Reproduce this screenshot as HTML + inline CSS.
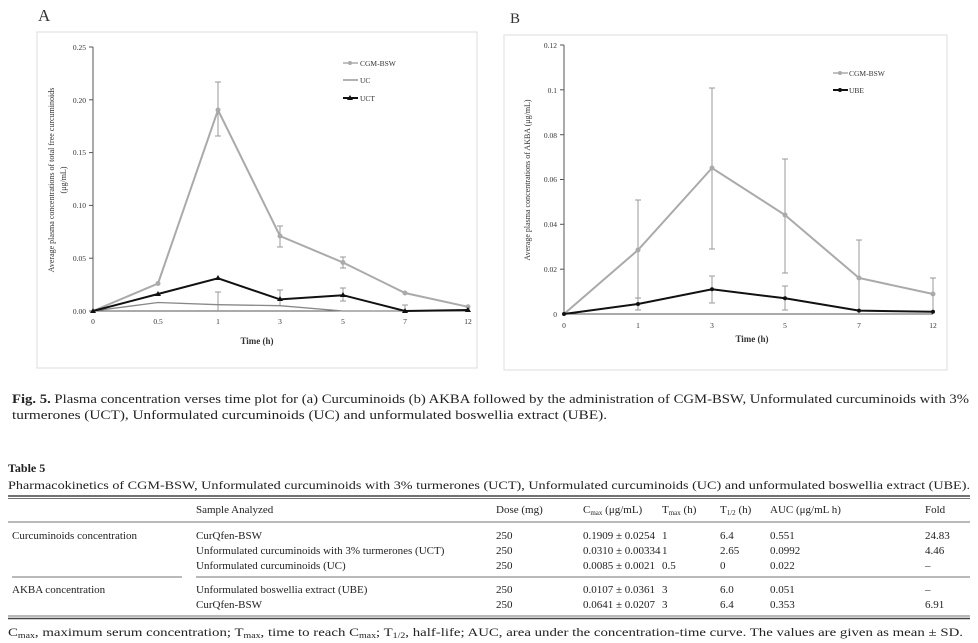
<!DOCTYPE html>
<html><head><meta charset="utf-8"><style>
body{margin:0;background:#fff;width:978px;height:643px;overflow:hidden}
svg{display:block}
text{font-family:"Liberation Serif",serif}
</style></head><body>
<svg width="978" height="643" viewBox="0 0 978 643">
<!-- Panel A -->
<text x="38" y="21" font-size="17" fill="#333">A</text>
<rect x="37" y="32" width="440" height="336" fill="none" stroke="#ddd"/>
<g stroke="#555" stroke-width="1" fill="none">
<line x1="93" y1="47" x2="93" y2="311"/><line x1="93" y1="311" x2="468" y2="311"/>
<line x1="89" y1="47" x2="93" y2="47"/><line x1="89" y1="99.8" x2="93" y2="99.8"/><line x1="89" y1="152.6" x2="93" y2="152.6"/><line x1="89" y1="205.4" x2="93" y2="205.4"/><line x1="89" y1="258.2" x2="93" y2="258.2"/><line x1="89" y1="311" x2="93" y2="311"/>
</g>
<g font-size="7.5" fill="#333" text-anchor="end">
<text x="86" y="50">0.25</text><text x="86" y="103">0.20</text><text x="86" y="155">0.15</text><text x="86" y="208">0.10</text><text x="86" y="261">0.05</text><text x="86" y="314">0.00</text>
</g>
<g font-size="7.5" fill="#333" text-anchor="middle">
<text x="93" y="324">0</text><text x="158" y="324">0.5</text><text x="218" y="324">1</text><text x="280" y="324">3</text><text x="343" y="324">5</text><text x="405" y="324">7</text><text x="468" y="324">12</text>
</g>
<text x="257" y="344" font-size="9" font-weight="bold" fill="#333" text-anchor="middle">Time (h)</text>
<text transform="translate(54,180) rotate(-90)" font-size="8" fill="#333" text-anchor="middle">Average plasma concentrations of total free curcuminoids</text>
<text transform="translate(66,180) rotate(-90)" font-size="8" fill="#333" text-anchor="middle">(μg/mL)</text>
<g stroke="#999" stroke-width="1">
<line x1="218" y1="82" x2="218" y2="136"/><line x1="215" y1="82" x2="221" y2="82"/><line x1="215" y1="136" x2="221" y2="136"/>
<line x1="280" y1="226" x2="280" y2="247"/><line x1="277" y1="226" x2="283" y2="226"/><line x1="277" y1="247" x2="283" y2="247"/>
<line x1="343" y1="257" x2="343" y2="268"/><line x1="340" y1="257" x2="346" y2="257"/><line x1="340" y1="268" x2="346" y2="268"/>
<line x1="218" y1="292" x2="218" y2="311"/><line x1="215" y1="292" x2="221" y2="292"/>
<line x1="280" y1="290" x2="280" y2="305"/><line x1="277" y1="290" x2="283" y2="290"/>
<line x1="343" y1="288" x2="343" y2="301"/><line x1="340" y1="288" x2="346" y2="288"/><line x1="340" y1="301" x2="346" y2="301"/>
<line x1="405" y1="305" x2="405" y2="311"/><line x1="402" y1="305" x2="408" y2="305"/>
</g>
<polyline points="93,311 158,283.5 218,110 280,236 343,262.5 405,293 468,306.8" fill="none" stroke="#aaa" stroke-width="2"/>
<g fill="#aaa"><circle cx="158" cy="283.5" r="2.5"/><circle cx="218" cy="110" r="2.5"/><circle cx="280" cy="236" r="2.5"/><circle cx="343" cy="262.5" r="2.5"/><circle cx="405" cy="293" r="2.5"/><circle cx="468" cy="306.8" r="2.5"/></g>
<polyline points="93,311 158,302.5 218,304.7 280,305.7 343,311 405,311 468,311" fill="none" stroke="#888" stroke-width="1.3"/>
<polyline points="93,311 158,294 218,278.3 280,299.4 343,295.2 405,311 468,310" fill="none" stroke="#111" stroke-width="2"/>
<g fill="#111"><path d="M93,308l3,5h-6z"/><path d="M158,291l3,5h-6z"/><path d="M218,275l3,5h-6z"/><path d="M280,296l3,5h-6z"/><path d="M343,292l3,5h-6z"/><path d="M405,308l3,5h-6z"/><path d="M468,307l3,5h-6z"/></g>
<g font-size="7.5" fill="#333">
<line x1="343" y1="63" x2="358" y2="63" stroke="#aaa" stroke-width="1.5"/><circle cx="350" cy="63" r="2" fill="#aaa"/><text x="360" y="66">CGM-BSW</text>
<line x1="343" y1="80" x2="358" y2="80" stroke="#888" stroke-width="1.3"/><text x="360" y="83">UC</text>
<line x1="343" y1="98" x2="358" y2="98" stroke="#111" stroke-width="2"/><path d="M350,95l3,5h-6z" fill="#111"/><text x="360" y="101">UCT</text>
</g>
<!-- Panel B -->
<text x="510" y="23" font-size="15" fill="#333">B</text>
<rect x="504" y="35" width="443" height="335" fill="none" stroke="#ddd"/>
<g stroke="#555" stroke-width="1" fill="none">
<line x1="564" y1="45" x2="564" y2="314"/><line x1="564" y1="314" x2="933" y2="314"/>
<line x1="560" y1="45" x2="564" y2="45"/><line x1="560" y1="89.8" x2="564" y2="89.8"/><line x1="560" y1="134.7" x2="564" y2="134.7"/><line x1="560" y1="179.5" x2="564" y2="179.5"/><line x1="560" y1="224.3" x2="564" y2="224.3"/><line x1="560" y1="269.2" x2="564" y2="269.2"/>
</g>
<g font-size="7.5" fill="#333" text-anchor="end">
<text x="557" y="48">0.12</text><text x="557" y="93">0.1</text><text x="557" y="138">0.08</text><text x="557" y="182">0.06</text><text x="557" y="227">0.04</text><text x="557" y="272">0.02</text><text x="557" y="317">0</text>
</g>
<g font-size="7.5" fill="#333" text-anchor="middle">
<text x="564" y="328">0</text><text x="638" y="328">1</text><text x="712" y="328">3</text><text x="785" y="328">5</text><text x="859" y="328">7</text><text x="933" y="328">12</text>
</g>
<text x="752" y="342" font-size="9" font-weight="bold" fill="#333" text-anchor="middle">Time (h)</text>
<text transform="translate(530,180) rotate(-90)" font-size="8" fill="#333" text-anchor="middle">Average plasma concentrations of AKBA (μg/mL)</text>
<g stroke="#999" stroke-width="1">
<line x1="638" y1="200" x2="638" y2="298"/><line x1="635" y1="200" x2="641" y2="200"/><line x1="635" y1="298" x2="641" y2="298"/>
<line x1="712" y1="88" x2="712" y2="249"/><line x1="709" y1="88" x2="715" y2="88"/><line x1="709" y1="249" x2="715" y2="249"/>
<line x1="785" y1="159" x2="785" y2="273"/><line x1="782" y1="159" x2="788" y2="159"/><line x1="782" y1="273" x2="788" y2="273"/>
<line x1="859" y1="240" x2="859" y2="314"/><line x1="856" y1="240" x2="862" y2="240"/>
<line x1="933" y1="278" x2="933" y2="310"/><line x1="930" y1="278" x2="936" y2="278"/>
<line x1="638" y1="298" x2="638" y2="310"/><line x1="635" y1="310" x2="641" y2="310"/>
<line x1="712" y1="276" x2="712" y2="303"/><line x1="709" y1="276" x2="715" y2="276"/><line x1="709" y1="303" x2="715" y2="303"/>
<line x1="785" y1="286" x2="785" y2="310"/><line x1="782" y1="286" x2="788" y2="286"/><line x1="782" y1="310" x2="788" y2="310"/>
</g>
<polyline points="564,314 638,250 712,168 785,215 859,278 933,294" fill="none" stroke="#aaa" stroke-width="2"/>
<g fill="#aaa"><circle cx="638" cy="250" r="2.5"/><circle cx="712" cy="168" r="2.5"/><circle cx="785" cy="215" r="2.5"/><circle cx="859" cy="278" r="2.5"/><circle cx="933" cy="294" r="2.5"/></g>
<polyline points="564,314 638,304 712,289.3 785,298.3 859,310.6 933,311.8" fill="none" stroke="#111" stroke-width="2"/>
<g fill="#111"><circle cx="564" cy="314" r="2"/><circle cx="638" cy="304" r="2"/><circle cx="712" cy="289.3" r="2"/><circle cx="785" cy="298.3" r="2"/><circle cx="859" cy="310.6" r="2"/><circle cx="933" cy="311.8" r="2"/></g>
<g font-size="7.5" fill="#333">
<line x1="833" y1="73" x2="848" y2="73" stroke="#aaa" stroke-width="1.5"/><circle cx="840" cy="73" r="2" fill="#aaa"/><text x="849" y="76">CGM-BSW</text>
<line x1="833" y1="90" x2="848" y2="90" stroke="#111" stroke-width="2"/><circle cx="840" cy="90" r="2" fill="#111"/><text x="849" y="93">UBE</text>
</g>
<!-- Caption -->
<g font-size="12.5" fill="#222">
<text x="12" y="403" textLength="957" lengthAdjust="spacingAndGlyphs"><tspan font-weight="bold">Fig. 5.</tspan> Plasma concentration verses time plot for (a) Curcuminoids (b) AKBA followed by the administration of CGM-BSW, Unformulated curcuminoids with 3%</text>
<text x="12" y="419" textLength="595" lengthAdjust="spacingAndGlyphs">turmerones (UCT), Unformulated curcuminoids (UC) and unformulated boswellia extract (UBE).</text>
</g>
<!-- Table -->
<g fill="#222" font-size="11.5">
<text x="8" y="472" font-weight="bold" font-size="12">Table 5</text>
<text x="8" y="489" textLength="962" lengthAdjust="spacingAndGlyphs">Pharmacokinetics of CGM-BSW, Unformulated curcuminoids with 3% turmerones (UCT), Unformulated curcuminoids (UC) and unformulated boswellia extract (UBE).</text>
</g>
<g stroke="#444">
<line x1="8" y1="496" x2="970" y2="496" stroke-width="1.5"/><line x1="8" y1="498.5" x2="970" y2="498.5" stroke-width="0.8"/>
<line x1="8" y1="522" x2="970" y2="522" stroke-width="0.8"/>
<line x1="12" y1="577" x2="182" y2="577" stroke-width="0.8"/><line x1="196" y1="577" x2="970" y2="577" stroke-width="0.8"/>
<line x1="8" y1="616" x2="970" y2="616" stroke-width="0.8"/><line x1="8" y1="618.5" x2="970" y2="618.5" stroke-width="1.5"/>
</g>
<g fill="#222" font-size="11">
<text x="196" y="513">Sample Analyzed</text><text x="496" y="513">Dose (mg)</text><text x="583" y="513">C<tspan font-size="7" dy="2">max</tspan><tspan dy="-2"> (μg/mL)</tspan></text><text x="662" y="513">T<tspan font-size="7" dy="2">max</tspan><tspan dy="-2"> (h)</tspan></text><text x="720" y="513">T<tspan font-size="7" dy="2">1/2</tspan><tspan dy="-2"> (h)</tspan></text><text x="770" y="513">AUC (μg/mL h)</text><text x="925" y="513">Fold</text>
<text x="12" y="539">Curcuminoids concentration</text>
<text x="196" y="539">CurQfen-BSW</text><text x="496" y="539">250</text><text x="583" y="539">0.1909 ± 0.0254</text><text x="662" y="539">1</text><text x="720" y="539">6.4</text><text x="770" y="539">0.551</text><text x="925" y="539">24.83</text>
<text x="196" y="554">Unformulated curcuminoids with 3% turmerones (UCT)</text><text x="496" y="554">250</text><text x="583" y="554">0.0310 ± 0.00334</text><text x="662" y="554">1</text><text x="720" y="554">2.65</text><text x="770" y="554">0.0992</text><text x="925" y="554">4.46</text>
<text x="196" y="569">Unformulated curcuminoids (UC)</text><text x="496" y="569">250</text><text x="583" y="569">0.0085 ± 0.0021</text><text x="662" y="569">0.5</text><text x="720" y="569">0</text><text x="770" y="569">0.022</text><text x="925" y="569">–</text>
<text x="12" y="593">AKBA concentration</text>
<text x="196" y="593">Unformulated boswellia extract (UBE)</text><text x="496" y="593">250</text><text x="583" y="593">0.0107 ± 0.0361</text><text x="662" y="593">3</text><text x="720" y="593">6.0</text><text x="770" y="593">0.051</text><text x="925" y="593">–</text>
<text x="196" y="608">CurQfen-BSW</text><text x="496" y="608">250</text><text x="583" y="608">0.0641 ± 0.0207</text><text x="662" y="608">3</text><text x="720" y="608">6.4</text><text x="770" y="608">0.353</text><text x="925" y="608">6.91</text>
</g>
<text x="8" y="636" font-size="12" fill="#222" textLength="955" lengthAdjust="spacingAndGlyphs">C<tspan font-size="8" dy="2">max</tspan><tspan dy="-2">, maximum serum concentration; T</tspan><tspan font-size="8" dy="2">max</tspan><tspan dy="-2">, time to reach C</tspan><tspan font-size="8" dy="2">max</tspan><tspan dy="-2">; T</tspan><tspan font-size="8" dy="2">1/2</tspan><tspan dy="-2">, half-life; AUC, area under the concentration-time curve. The values are given as mean ± SD.</tspan></text>
</svg>
</body></html>
